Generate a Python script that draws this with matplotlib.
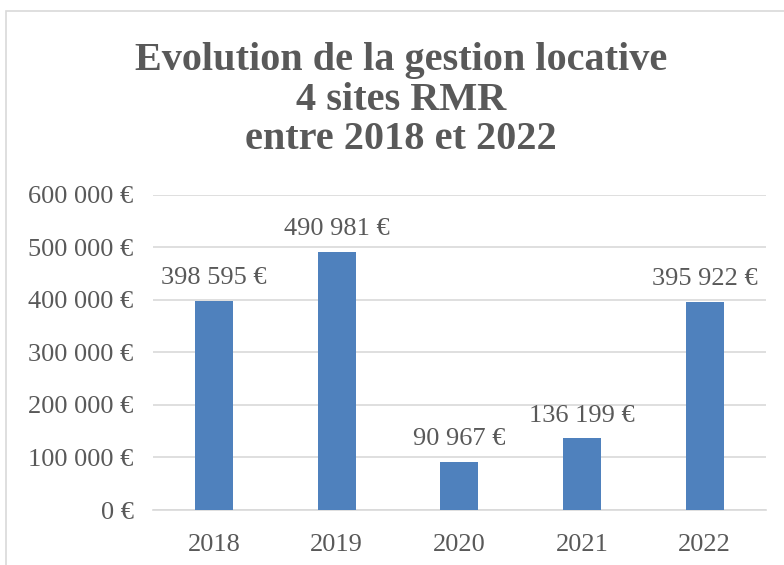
import matplotlib.pyplot as plt
from matplotlib.patches import Rectangle

years = ["2018", "2019", "2020", "2021", "2022"]
values = [398595, 490981, 90967, 136199, 395922]
yticks = [0, 100000, 200000, 300000, 400000, 500000, 600000]


def euro(v):
    s = f"{v:,}".replace(",", " ")
    return s + " €"


plt.rcParams['font.family'] = ['Liberation Serif', 'DejaVu Serif']
gray = "#595959"

fig = plt.figure(figsize=(7.84, 5.65), dpi=100)
ax = fig.add_axes([0.195, 0.0973, 0.782, 0.558])

# chart area border (cropped on the right and bottom)
fig.patches.append(Rectangle((6 / 784, -0.1), 1.2, 1 - 11 / 565 + 0.1,
                             transform=fig.transFigure, fill=False,
                             edgecolor="#d9d9d9", linewidth=1.2))

x = range(len(years))
bars = ax.bar(x, values, width=0.31, color="#4f81bd", zorder=3)

for xi, v in zip(x, values):
    ax.annotate(euro(v), (xi, v), xytext=(0, 8.5), textcoords="offset points",
                ha="center", va="bottom", fontsize=19, color=gray)

ax.set_xlim(-0.5, len(years) - 0.5)
ax.set_ylim(0, 600000)
ax.set_yticks(yticks)
ax.set_yticklabels([euro(t) for t in yticks])
ax.set_xticks(list(x))
ax.set_xticklabels(years)
ax.tick_params(axis="both", length=0, labelsize=19, labelcolor=gray)
ax.tick_params(axis="y", pad=14)
ax.tick_params(axis="x", pad=17)
ax.grid(axis="y", color="#d9d9d9", linewidth=1.2, zorder=0)
for s in ["top", "right", "left"]:
    ax.spines[s].set_visible(False)
ax.spines["bottom"].set_color("#d9d9d9")
ax.spines["bottom"].set_linewidth(1.2)

fig.text(401 / 784, 1 - 100 / 565, "Evolution de la gestion locative\n4 sites RMR\nentre 2018 et 2022",
         ha="center", va="center", fontsize=29, fontweight="bold", color=gray,
         linespacing=1.1)

fig.savefig("out.png", dpi=100)
